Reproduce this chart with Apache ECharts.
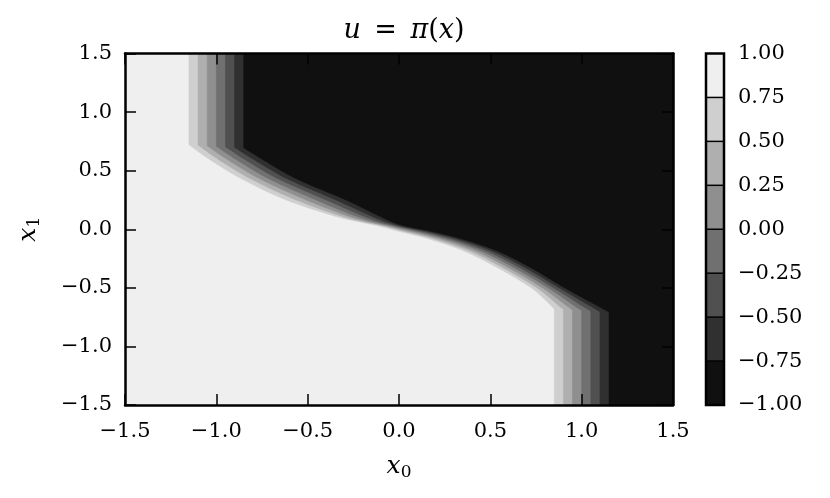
<!DOCTYPE html>
<html><head><meta charset="utf-8">
<script src="https://cdn.jsdelivr.net/npm/echarts@6/dist/echarts.min.js"></script>
<style>html,body{margin:0;padding:0;background:#fff}#c{width:830px;height:498px}</style>
</head><body><div id="c"></div>
<script>
// ---- data ----
const axisTicks = [-1.5, -1.0, -0.5, 0.0, 0.5, 1.0, 1.5];
const colorbarTicks = [-1.0, -0.75, -0.5, -0.25, 0.0, 0.25, 0.5, 0.75, 1.0];
const levels = [0.75, 0.5, 0.25, 0.0, -0.25, -0.5, -0.75];
// band colours, from u in [0.75,1] down to [-1,-0.75]
const bandColors = ['#efefef', '#cfcfcf', '#afafaf', '#8f8f8f', '#707070', '#505050', '#303030', '#101010'];
// contour lines [x0, x1], top edge to bottom edge
const c075 = [[-1.15,1.5],[-1.15,0.722],[-1.035,0.594],[-0.854,0.424],[-0.624,0.254],[-0.351,0.112],[-0.12,0.032],[0.0,-0.018],[0.177,-0.089],[0.359,-0.188],[0.542,-0.33],[0.724,-0.5],[0.835,-0.656],[0.85,-0.681],[0.85,-1.5]];
const c050 = [[-1.10,1.5],[-1.10,0.718],[-0.987,0.594],[-0.804,0.424],[-0.569,0.254],[-0.304,0.107],[-0.093,0.031],[0.030,-0.018],[0.207,-0.089],[0.390,-0.188],[0.572,-0.33],[0.755,-0.5],[0.877,-0.656],[0.90,-0.685],[0.90,-1.5]];
const c025 = [[-1.05,1.5],[-1.05,0.713],[-0.938,0.594],[-0.754,0.424],[-0.514,0.254],[-0.257,0.103],[-0.067,0.030],[0.059,-0.018],[0.238,-0.089],[0.420,-0.188],[0.603,-0.33],[0.785,-0.5],[0.920,-0.656],[0.95,-0.69],[0.95,-1.5]];
const c000 = [[-1.00,1.5],[-1.00,0.709],[-0.890,0.594],[-0.704,0.424],[-0.460,0.254],[-0.210,0.098],[-0.040,0.029],[0.089,-0.018],[0.268,-0.089],[0.451,-0.188],[0.633,-0.33],[0.816,-0.5],[0.962,-0.656],[1.00,-0.694],[1.00,-1.5]];
const cm025 = [[-0.95,1.5],[-0.95,0.705],[-0.842,0.594],[-0.653,0.424],[-0.405,0.254],[-0.162,0.093],[-0.013,0.027],[0.118,-0.018],[0.298,-0.089],[0.481,-0.188],[0.663,-0.33],[0.846,-0.5],[1.004,-0.656],[1.05,-0.698],[1.05,-1.5]];
const cm050 = [[-0.90,1.5],[-0.90,0.700],[-0.793,0.594],[-0.603,0.424],[-0.351,0.254],[-0.115,0.089],[0.013,0.026],[0.148,-0.018],[0.329,-0.089],[0.512,-0.188],[0.694,-0.33],[0.877,-0.5],[1.047,-0.656],[1.10,-0.703],[1.10,-1.5]];
const cm075 = [[-0.85,1.5],[-0.85,0.696],[-0.745,0.594],[-0.553,0.424],[-0.296,0.254],[-0.068,0.084],[0.040,0.025],[0.177,-0.018],[0.359,-0.089],[0.542,-0.188],[0.724,-0.33],[0.907,-0.5],[1.089,-0.656],[1.15,-0.707],[1.15,-1.5]];

const contours = [c075, c050, c025, c000, cm025, cm050, cm075];
const xMin = axisTicks[0], xMax = axisTicks[axisTicks.length - 1];
const FONT = 'DejaVu Serif';

function fmt(v, d) { return (v < 0 ? '\u2212' : '') + Math.abs(v).toFixed(d); }

// smooth closed path: straight vertical ends, Catmull-Rom through the curved part
function contourPath(pts, api) {
  const P = pts.map(p => api.coord(p));
  const n = P.length;
  const f = v => v.toFixed(2);
  let d = 'M' + f(P[0][0]) + ' ' + f(P[0][1]) + ' L' + f(P[1][0]) + ' ' + f(P[1][1]);
  for (let i = 1; i < n - 2; i++) {
    const p0 = P[i - 1 < 1 ? 1 : i - 1], p1 = P[i], p2 = P[i + 1], p3 = P[i + 2 > n - 2 ? n - 2 : i + 2];
    const c1 = [p1[0] + (p2[0] - p0[0]) / 6, p1[1] + (p2[1] - p0[1]) / 6];
    const c2 = [p2[0] - (p3[0] - p1[0]) / 6, p2[1] - (p3[1] - p1[1]) / 6];
    d += ' C' + f(c1[0]) + ' ' + f(c1[1]) + ' ' + f(c2[0]) + ' ' + f(c2[1]) + ' ' + f(p2[0]) + ' ' + f(p2[1]);
  }
  const br = api.coord([xMax, xMin]), tr = api.coord([xMax, xMax]);
  d += ' L' + f(P[n - 1][0]) + ' ' + f(P[n - 1][1]) + ' L' + f(br[0]) + ' ' + f(br[1]) + ' L' + f(tr[0]) + ' ' + f(tr[1]) + ' Z';
  return d;
}

const chart = echarts.init(document.getElementById('c'), null, {renderer: 'canvas'});

const tickStyle = {show: true, inside: true, length: 11, lineStyle: {color: '#000', width: 1.5}};
const lineStyle = {show: true, onZero: false, lineStyle: {color: '#000', width: 2.5}};
const labelStyle = {color: '#000', fontFamily: FONT, fontSize: 21};
const nameRich = {
  i: {fontFamily: FONT, fontSize: 25, fontStyle: 'italic', color: '#000'},
  s: {fontFamily: FONT, fontSize: 17, color: '#000', verticalAlign: 'bottom', padding: [12, 0, 0, 0]}
};

const mainAxisBase = {
  type: 'value', min: xMin, max: xMax, interval: 0.5, gridIndex: 0, z: 10,
  splitLine: {show: false}, axisLine: lineStyle, axisTick: tickStyle
};

chart.setOption({
  animation: false,
  title: {
    text: '{i|u}\u2002=\u2002{i|π}({i|x})',
    left: 399, textAlign: 'center', top: 12,
    textStyle: {
      fontFamily: FONT, fontSize: 27, fontWeight: 'normal', color: '#000',
      rich: {i: {fontFamily: FONT, fontSize: 27, fontStyle: 'italic', color: '#000'}}
    }
  },
  grid: [
    {left: 125, top: 53.5, width: 548, height: 351.5},
    {left: 706, top: 53.5, width: 18, height: 351.5}
  ],
  xAxis: [
    Object.assign({}, mainAxisBase, {
      position: 'bottom',
      axisLabel: Object.assign({}, labelStyle, {margin: 16, formatter: v => fmt(v, 1)}),
      name: '{i|x}{s|0}', nameLocation: 'middle', nameGap: 47,
      nameTextStyle: {color: '#000', fontFamily: FONT, fontSize: 25, rich: nameRich}
    }),
    Object.assign({}, mainAxisBase, {position: 'top', axisLabel: {show: false}}),
    {type: 'value', gridIndex: 1, min: 0, max: 1, show: false}
  ],
  yAxis: [
    Object.assign({}, mainAxisBase, {
      position: 'left',
      axisLabel: Object.assign({}, labelStyle, {margin: 13, formatter: v => fmt(v, 1)}),
      name: '{i|x}{s|1}', nameLocation: 'middle', nameGap: 82, nameRotate: 90,
      nameTextStyle: {color: '#000', fontFamily: FONT, fontSize: 25, rich: nameRich}
    }),
    Object.assign({}, mainAxisBase, {position: 'right', axisLabel: {show: false}}),
    {
      type: 'value', gridIndex: 1, min: colorbarTicks[0], max: colorbarTicks[colorbarTicks.length - 1],
      interval: 0.25, position: 'right', z: 10,
      splitLine: {show: false}, axisLine: {show: false}, axisTick: {show: false},
      axisLabel: Object.assign({}, labelStyle, {margin: 14, formatter: v => fmt(v, 2)})
    }
  ],
  series: [
    {
      type: 'custom', xAxisIndex: 0, yAxisIndex: 0, clip: true, z: 2,
      data: bandColors.map((c, i) => i),
      renderItem: function (params, api) {
        const i = params.dataIndex;
        if (i === 0) {
          const a = api.coord([xMin, xMax]), b = api.coord([xMax, xMin]);
          return {type: 'rect', shape: {x: a[0], y: a[1], width: b[0] - a[0], height: b[1] - a[1]},
                  style: {fill: bandColors[0]}};
        }
        return {
          type: 'path',
          shape: {pathData: contourPath(contours[i - 1], api)},
          style: {fill: bandColors[i], stroke: bandColors[i], lineWidth: 0.5}
        };
      }
    },
    {
      type: 'custom', xAxisIndex: 2, yAxisIndex: 2, z: 2,
      data: bandColors.map((c, i) => i),
      renderItem: function (params, api) {
        const i = params.dataIndex;
        const hi = colorbarTicks[colorbarTicks.length - 1 - i];
        const lo = colorbarTicks[colorbarTicks.length - 2 - i];
        const a = api.coord([0, hi]), b = api.coord([1, lo]);
        return {type: 'rect', shape: {x: a[0], y: a[1], width: b[0] - a[0], height: b[1] - a[1]},
                style: {fill: bandColors[i]}};
      }
    },
    {
      type: 'custom', xAxisIndex: 2, yAxisIndex: 2, z: 20,
      data: [0],
      renderItem: function (params, api) {
        const a = api.coord([0, colorbarTicks[colorbarTicks.length - 1]]);
        const b = api.coord([1, colorbarTicks[0]]);
        const children = colorbarTicks.slice(1, -1).map(t => {
          const l = api.coord([0, t]), r = api.coord([1, t]);
          return {type: 'line', shape: {x1: l[0], y1: l[1], x2: r[0], y2: r[1]},
                  style: {stroke: '#000', lineWidth: 1.5}};
        });
        children.push({type: 'rect', shape: {x: a[0], y: a[1], width: b[0] - a[0], height: b[1] - a[1]},
                style: {fill: null, stroke: '#000', lineWidth: 2.5}});
        return {type: 'group', children: children};
      }
    }
  ]
});
</script>
</body></html>
